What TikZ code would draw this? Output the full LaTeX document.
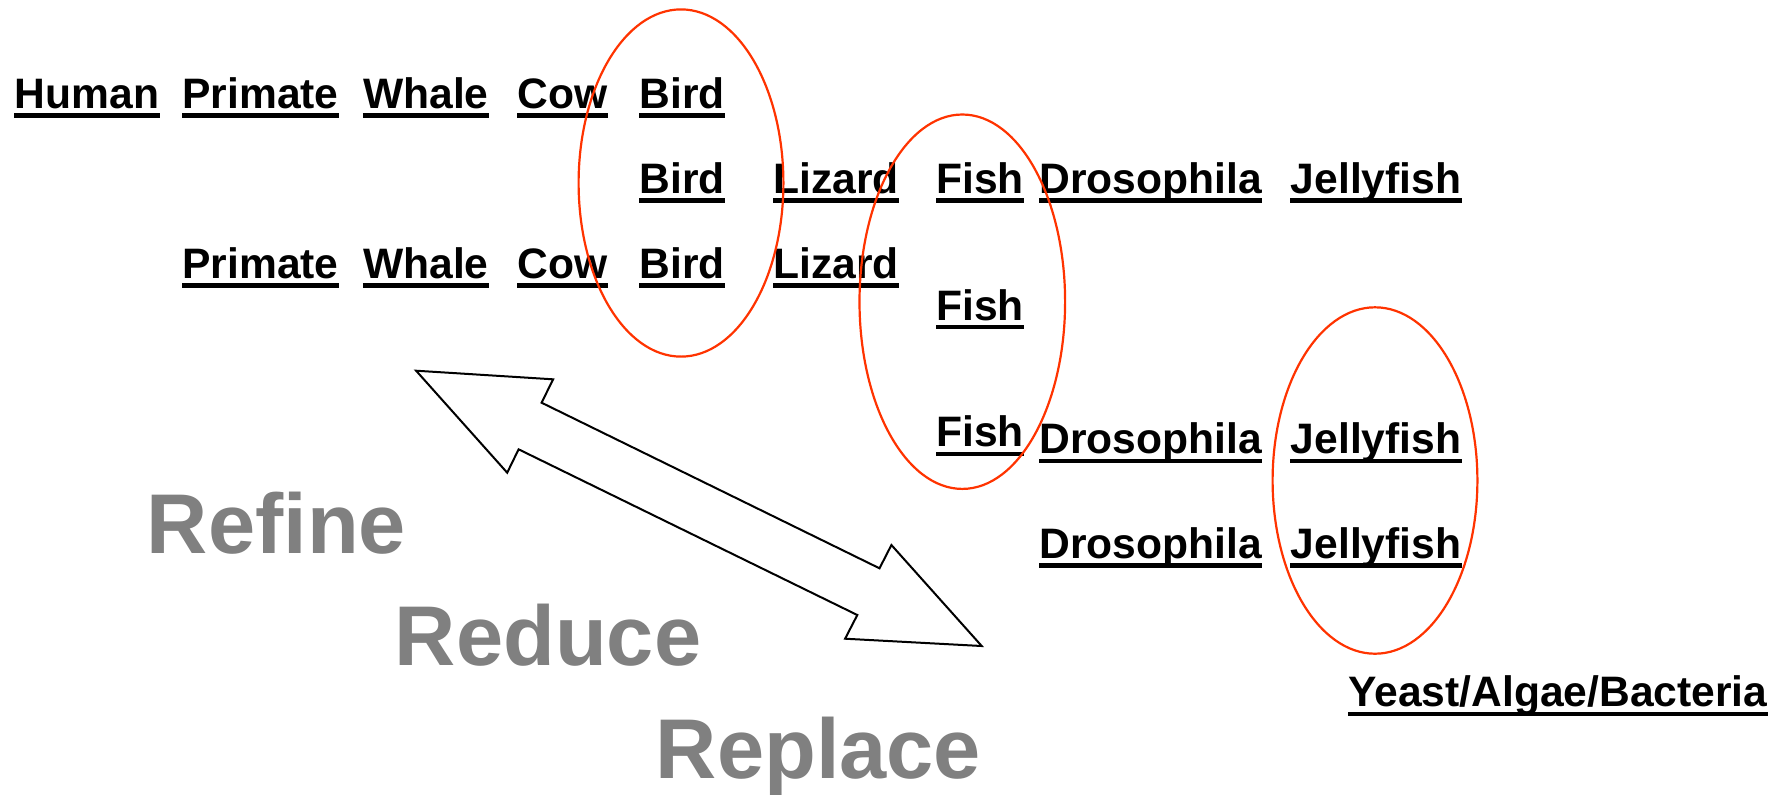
\documentclass[tikz,border=0pt]{standalone}
\usepackage{fontspec}
\setmainfont{Liberation Sans}
\usetikzlibrary{calc}
\definecolor{ringred}{HTML}{FF3300}
\definecolor{mottogray}{HTML}{808080}
\tikzset{
  taxon/.style={anchor=base west, inner sep=0pt, font=\fontsize{21.3}{25}\selectfont\bfseries,
    append after command={([yshift=-3.6pt]\tikzlastnode.base west) edge[line width=2.1pt] ([yshift=-3.6pt]\tikzlastnode.base east)}},
  motto/.style={anchor=base west, inner sep=0pt, text=mottogray, font=\fontsize{42.4}{48}\selectfont\bfseries},
  ring/.style={draw=ringred, line width=1.1pt},
}
\begin{document}
\begin{tikzpicture}[x=0.5pt, y=-0.5pt]
  \useasboundingbox (0,0) rectangle (1792,794);
  % first row
  \node[taxon] (human1) at (14.4, 108.3) {Human};
  \node[taxon] (primate1) at (182, 108.3) {Primate};
  \node[taxon] (whale1) at (362.8, 108.3) {Whale};
  \node[taxon] (cow1) at (517.2, 108.3) {Cow};
  \node[taxon] (bird1) at (639, 108.3) {Bird};
  % second row
  \node[taxon] (bird2) at (639, 193.3) {Bird};
  \node[taxon] (lizard2) at (773, 193.3) {Lizard};
  \node[taxon] (fish2) at (936, 193.3) {Fish};
  \node[taxon] (dros2) at (1039, 193.3) {Drosophila};
  \node[taxon] (jelly2) at (1290.4, 193.3) {Jellyfish};
  % third row
  \node[taxon] (primate3) at (182, 278.3) {Primate};
  \node[taxon] (whale3) at (362.8, 278.3) {Whale};
  \node[taxon] (cow3) at (517.2, 278.3) {Cow};
  \node[taxon] (bird3) at (639, 278.3) {Bird};
  \node[taxon] (lizard3) at (773, 278.3) {Lizard};
  % lower rows
  \node[taxon] (fish4) at (936, 320) {Fish};
  \node[taxon] (fish5) at (936, 446.7) {Fish};
  \node[taxon] (dros5) at (1039, 453.5) {Drosophila};
  \node[taxon] (jelly5) at (1290.4, 453.5) {Jellyfish};
  \node[taxon] (dros6) at (1039, 558.3) {Drosophila};
  \node[taxon] (jelly6) at (1290.4, 558.3) {Jellyfish};
  \node[taxon] (yeast) at (1348, 706.7) {Yeast/Algae/Bacteria};
  % the three R's
  \node[motto] (refine) at (146.5, 553.3) {Refine};
  \node[motto] (reduce) at (394.5, 665) {Reduce};
  \node[motto] (replace) at (655.5, 778.3) {Replace};
  % rings
  \draw[ring] (681, 183) ellipse [x radius=51.2pt, y radius=86.8pt];
  \draw[ring] (962.3, 301.7) ellipse [x radius=51.4pt, y radius=93.6pt];
  \draw[ring] (1375, 480.5) ellipse [x radius=51.2pt, y radius=86.6pt];
  % double arrow
  \coordinate (T1) at (416.1, 370.7);
  \coordinate (B1) at (553.1, 379.3);
  \coordinate (N1) at (541.6, 402.7);
  \coordinate (N2) at (879.5, 568.3);
  \coordinate (B2) at (891.4, 545);
  \coordinate (T2) at (981.7, 646);
  \coordinate (B3) at (845.1, 638.7);
  \coordinate (N3) at (857.3, 615);
  \coordinate (N4) at (518.6, 449.3);
  \coordinate (B4) at (507.2, 472.7);
  \draw[line width=1pt] (T1)--(B1)--(N1)--(N2)--(B2)--(T2)--(B3)--(N3)--(N4)--(B4)--cycle;
\end{tikzpicture}
\end{document}
